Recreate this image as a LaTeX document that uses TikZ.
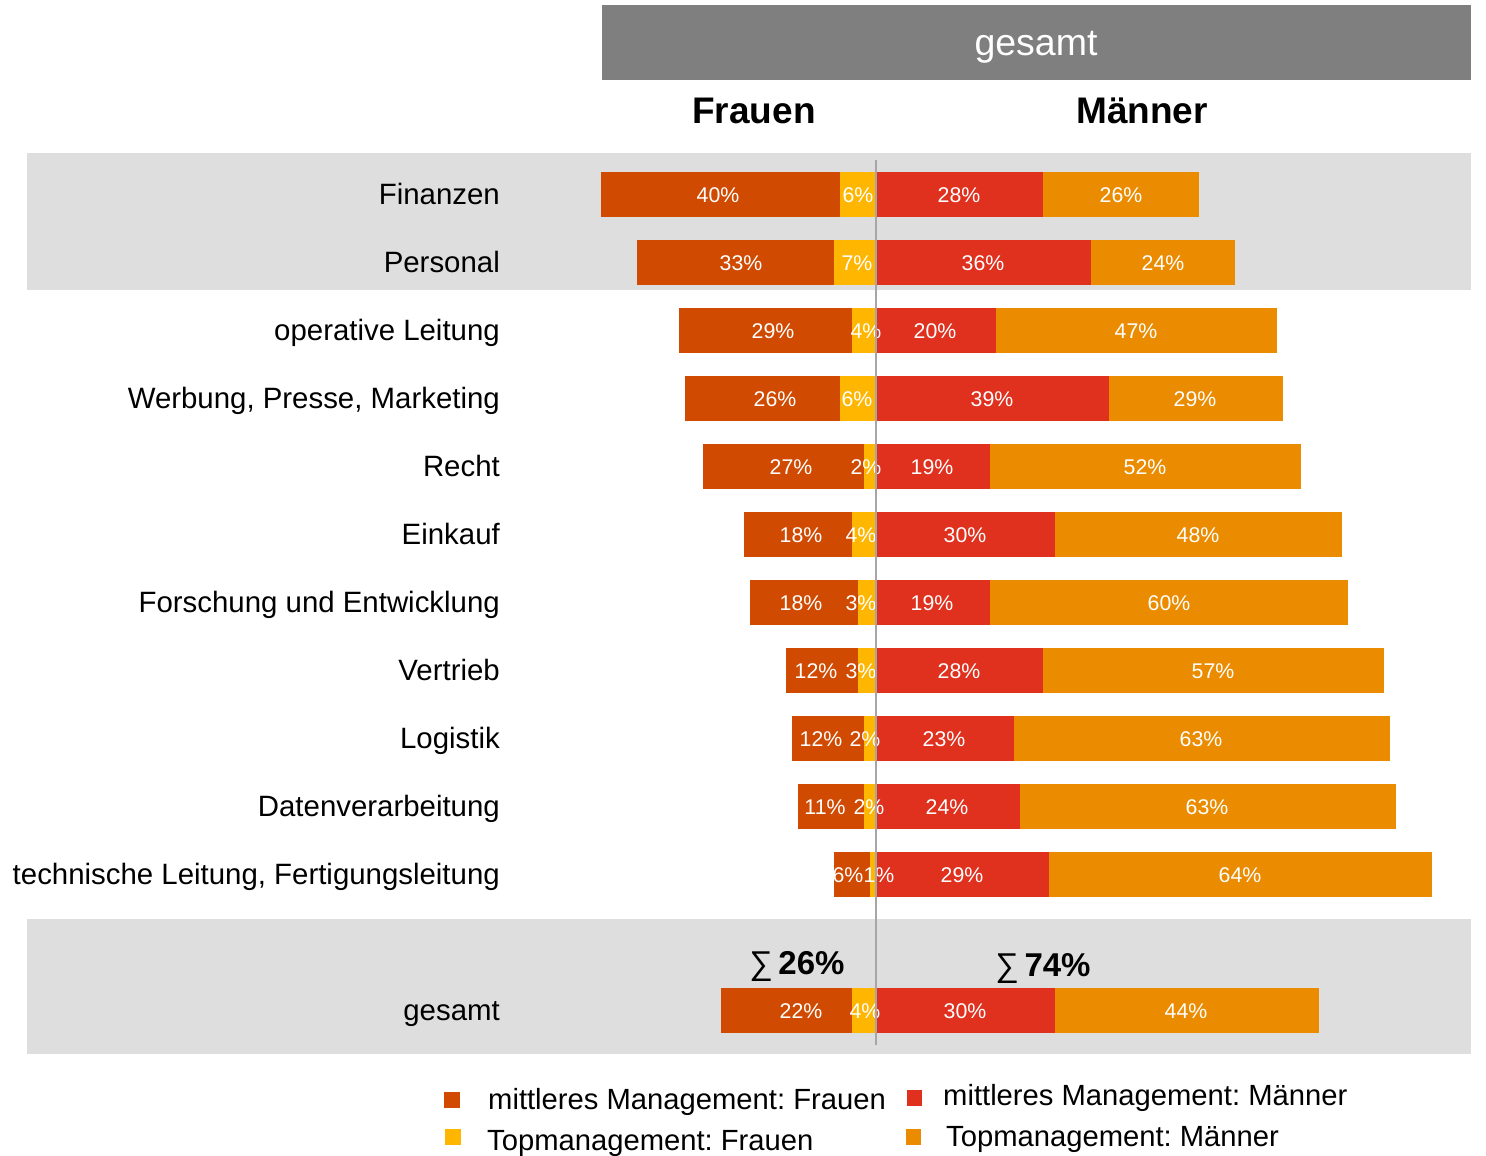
\documentclass[tikz,border=0pt]{standalone}
\usepackage{fontspec}
\setmainfont{Liberation Sans}
\frenchspacing
\definecolor{fmid}{HTML}{D04A02}
\definecolor{ftop}{HTML}{FFB600}
\definecolor{mmid}{HTML}{E0301E}
\definecolor{mtop}{HTML}{EB8C00}
\definecolor{bandgray}{HTML}{DEDEDE}
\definecolor{headgray}{HTML}{7F7F7F}
\definecolor{axisgray}{HTML}{A6A6A6}
\newcommand{\pcu}{5.98}
% #1 y, #2 fmid, #3 ftop, #4 mmid, #5 mtop, #6-#9 label x
\newcommand{\prow}[9]{%
  \fill[fmid] ({876-(#2+#3)*\pcu},#1-22.5) rectangle ({876-#3*\pcu},#1+22.5);
  \fill[ftop] ({876-#3*\pcu},#1-22.5) rectangle (876,#1+22.5);
  \fill[mmid] (876,#1-22.5) rectangle ({876+#4*\pcu},#1+22.5);
  \fill[mtop] ({876+#4*\pcu},#1-22.5) rectangle ({876+(#4+#5)*\pcu},#1+22.5);
  \node[pct] (p#1a) at (#6,#1+8) {#2\%};
  \node[pct] (p#1b) at (#7,#1+8) {#3\%};
  \node[pct] (p#1c) at (#8,#1+8) {#4\%};
  \node[pct] (p#1d) at (#9,#1+8) {#5\%};
}
\begin{document}
\begin{tikzpicture}[x=1pt,y=-1pt,
  pct/.style={anchor=base,text=white,inner sep=0pt,font=\fontsize{21.3}{24}\selectfont},
  rowlab/.style={anchor=base east,inner sep=0pt,font=\fontsize{29.4}{32}\selectfont},
  headlab/.style={anchor=base,inner sep=0pt,font=\fontsize{37}{40}\selectfont\bfseries},
  legtext/.style={anchor=base west,inner sep=0pt,font=\fontsize{29.2}{32}\selectfont},
]
\useasboundingbox (0,0) rectangle (1486,1156);
% bands
\fill[bandgray] (27,153) rectangle (1471,290);
\fill[bandgray] (27,919) rectangle (1471,1054);
\fill[headgray] (602,5) rectangle (1471,80);
\node[anchor=base,inner sep=0pt,text=white,font=\fontsize{37.5}{40}\selectfont] (hdr) at (1036,56) {gesamt};
\node[headlab] (hf) at (754,123) {Frauen};
\node[headlab] (hm) at (1142,123) {Männer};
% row labels
\node[rowlab] (l1) at (500,204) {Finanzen};
\node[rowlab] (l2) at (500,272) {Personal};
\node[rowlab] (l3) at (500,340) {operative Leitung};
\node[rowlab] (l4) at (500,408) {Werbung, Presse, Marketing};
\node[rowlab] (l5) at (500,476) {Recht};
\node[rowlab] (l6) at (500,544) {Einkauf};
\node[rowlab] (l7) at (500,612) {Forschung und Entwicklung};
\node[rowlab] (l8) at (500,680) {Vertrieb};
\node[rowlab] (l9) at (500,748) {Logistik};
\node[rowlab] (l10) at (500,816) {Datenverarbeitung};
\node[rowlab] (l11) at (500,884) {technische Leitung, Fertigungsleitung};
\node[rowlab] (l12) at (500,1020) {gesamt};
% bars
\prow{194.5}{40}{6}{28}{26}{718}{858}{959}{1121}
\prow{262.5}{33}{7}{36}{24}{741}{857}{983}{1163}
\prow{330.5}{29}{4}{20}{47}{773}{866}{935}{1136}
\prow{398.5}{26}{6}{39}{29}{775}{857}{992}{1195}
\prow{466.5}{27}{2}{19}{52}{791}{866}{932}{1145}
\prow{534.5}{18}{4}{30}{48}{801}{861}{965}{1198}
\prow{602.5}{18}{3}{19}{60}{801}{861}{932}{1169}
\prow{670.5}{12}{3}{28}{57}{816}{861}{959}{1213}
\prow{738.5}{12}{2}{23}{63}{821}{865}{944}{1201}
\prow{806.5}{11}{2}{24}{63}{825}{869}{947}{1207}
\prow{874.5}{6}{1}{29}{64}{848}{879}{962}{1240}
\prow{1010.5}{22}{4}{30}{44}{801}{865}{965}{1186}
% sums
\node[anchor=base,inner sep=0pt,font=\fontsize{33}{36}\selectfont] (s1) at (797,974) {∑\,\textbf{26\%}};
\node[anchor=base,inner sep=0pt,font=\fontsize{33}{36}\selectfont] (s2) at (1043,976) {∑\,\textbf{74\%}};
% axis
\coordinate (axt) at (876,160);
\coordinate (axb) at (876,1045);
\draw[axisgray,line width=2] (axt) -- (axb);
% legend
\fill[fmid] (444,1092) rectangle (460,1108);
\node[legtext] (lg1) at (488,1109) {mittleres Management: Frauen};
\fill[ftop] (445,1129) rectangle (461,1145);
\node[legtext] (lg2) at (487,1150) {Topmanagement: Frauen};
\fill[mmid] (907,1090) rectangle (922,1106);
\node[legtext] (lg3) at (943,1105) {mittleres Management: Männer};
\fill[mtop] (906,1129) rectangle (921,1145);
\node[legtext] (lg4) at (946,1146) {Topmanagement: Männer};
\end{tikzpicture}
\end{document}
